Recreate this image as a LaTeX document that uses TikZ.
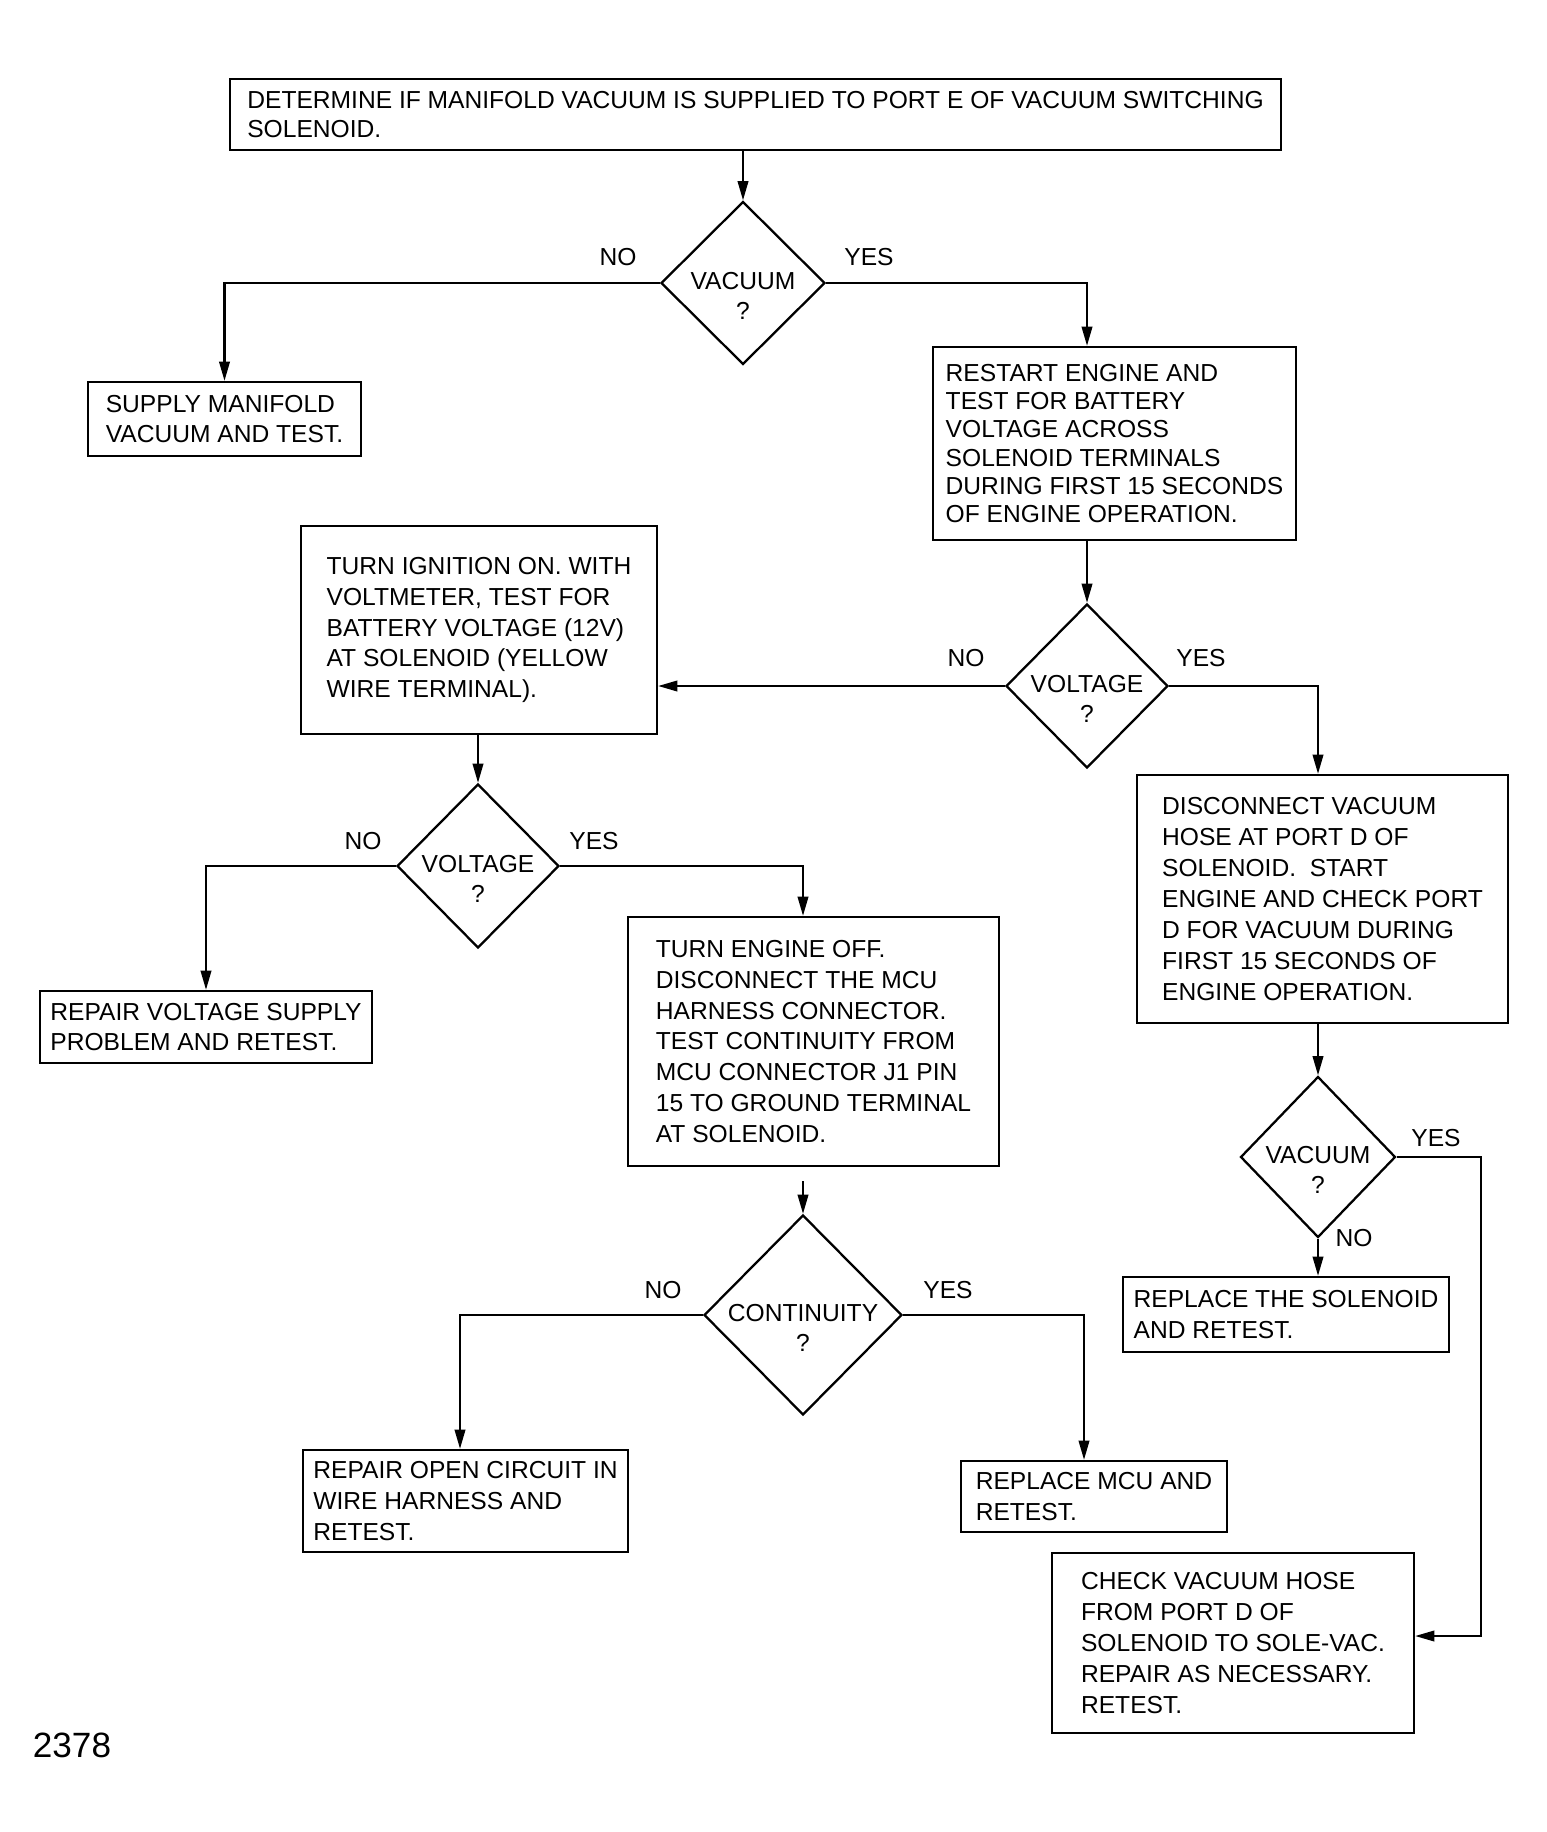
\documentclass[tikz,border=0pt]{standalone}
\usepackage{fontspec}
\setmainfont{Liberation Sans}
\usetikzlibrary{shapes.geometric,arrows.meta}

\begin{document}
\begin{tikzpicture}[x=0.02cm,y=-0.02cm,
  stepbox/.style={draw,line width=1.3pt,align=left,inner sep=0pt,font=\fontsize{14pt}{17.6pt}\selectfont},
  query/.style={draw,diamond,aspect=1,line width=1.3pt,inner sep=0pt},
  asktext/.style={align=center,yshift=-0.26cm,font=\fontsize{14pt}{17.5pt}\selectfont},
  answer/.style={font=\fontsize{14pt}{14pt}\selectfont},
  flow/.style={line width=1.3pt,-{Triangle[length=11pt,width=6pt]}}]
\useasboundingbox (0,0) rectangle (1546,1832);

\node[stepbox,minimum width=21.02cm,minimum height=1.42cm,font=\fontsize{14pt}{16.5pt}\selectfont] (determine) at (755.5,114.5) {DETERMINE IF MANIFOLD VACUUM IS SUPPLIED TO PORT E OF VACUUM SWITCHING\\SOLENOID.};
\node[query,minimum width=3.28cm,minimum height=3.26cm,label={[asktext]center:VACUUM\\?}] (vac1) at (743,283) {};
\node[stepbox,minimum width=5.46cm,minimum height=1.48cm] (supply) at (224.5,419) {SUPPLY MANIFOLD\\VACUUM AND TEST.};
\node[stepbox,minimum width=7.26cm,minimum height=3.86cm,font=\fontsize{14pt}{16pt}\selectfont] (restart) at (1114.5,443.5) {RESTART ENGINE AND\\TEST FOR BATTERY\\VOLTAGE ACROSS\\SOLENOID TERMINALS\\DURING FIRST 15 SECONDS\\OF ENGINE OPERATION.};

\node[query,minimum width=3.24cm,minimum height=3.28cm,label={[asktext]center:VOLTAGE\\?}] (volt1) at (1087,686) {};
\node[stepbox,minimum width=7.12cm,minimum height=4.16cm] (ignition) at (479,630) {TURN IGNITION ON. WITH\\VOLTMETER, TEST FOR\\BATTERY VOLTAGE (12V)\\AT SOLENOID (YELLOW\\WIRE TERMINAL).};
\node[stepbox,minimum width=7.42cm,minimum height=4.96cm] (disconnect) at (1322.5,899) {DISCONNECT VACUUM\\HOSE AT PORT D OF\\SOLENOID.\ \ START\\ENGINE AND CHECK PORT\\D FOR VACUUM DURING\\FIRST 15 SECONDS OF\\ENGINE OPERATION.};

\node[query,minimum width=3.24cm,minimum height=3.28cm,label={[asktext]center:VOLTAGE\\?}] (volt2) at (478,866) {};
\node[stepbox,minimum width=6.64cm,minimum height=1.44cm] (repvolt) at (206,1027) {REPAIR VOLTAGE SUPPLY\\PROBLEM AND RETEST.};
\node[stepbox,minimum width=7.42cm,minimum height=4.98cm] (engoff) at (813.5,1041.5) {TURN ENGINE OFF.\\DISCONNECT THE MCU\\HARNESS CONNECTOR.\\TEST CONTINUITY FROM\\MCU CONNECTOR J1 PIN\\15 TO GROUND TERMINAL\\AT SOLENOID.};

\node[query,minimum width=3.96cm,minimum height=4cm,label={[asktext]center:CONTINUITY\\?}] (cont) at (803,1315) {};
\node[stepbox,minimum width=6.5cm,minimum height=2.04cm] (repopen) at (465.5,1501) {REPAIR OPEN CIRCUIT IN\\WIRE HARNESS AND\\RETEST.};
\node[stepbox,minimum width=5.32cm,minimum height=1.42cm] (repmcu) at (1094,1496.5) {REPLACE MCU AND\\RETEST.};

\node[query,minimum width=3.1cm,minimum height=3.22cm,label={[asktext]center:VACUUM\\?}] (vac2) at (1318,1157) {};
\node[stepbox,minimum width=6.52cm,minimum height=1.5cm] (repsol) at (1286,1314.5) {REPLACE THE SOLENOID\\AND RETEST.};
\node[stepbox,minimum width=7.24cm,minimum height=3.6cm] (checkhose) at (1233,1643) {CHECK VACUUM HOSE\\FROM PORT D OF\\SOLENOID TO SOLE-VAC.\\REPAIR AS NECESSARY.\\RETEST.};

% answers
\node[answer] (no1) at (618,257) {NO};
\node[answer] (yes1) at (869,257) {YES};
\node[answer] (no2) at (966,658) {NO};
\node[answer] (yes2) at (1201,658) {YES};
\node[answer] (no3) at (363,841) {NO};
\node[answer] (yes3) at (594,841) {YES};
\node[answer] (no4) at (663,1290) {NO};
\node[answer] (yes4) at (948,1290) {YES};
\node[answer] (yes5) at (1436,1138) {YES};
\node[answer] (no5) at (1354,1238) {NO};

\node[font=\fontsize{20pt}{20pt}\selectfont] (figno) at (72,1745) {2378};

% connectors
\draw[flow] (determine.south -| vac1.north) -- (vac1.north);
\draw[flow] (vac1.west) -| (supply.north);
\draw[flow] (vac1.east) -| (restart.north -| volt1.north);
\draw[flow] (restart.south -| volt1.north) -- (volt1.north);
\draw[flow] (volt1.west) -- (volt1.west -| ignition.east);
\draw[flow] (volt1.east) -| (disconnect.north -| vac2.north);
\draw[flow] (ignition.south -| volt2.north) -- (volt2.north);
\draw[flow] (volt2.west) -| (repvolt.north);
\draw[flow] (volt2.east) -| (engoff.north -| cont.north);
\draw[flow,shorten <=0.28cm] (engoff.south -| cont.north) -- (cont.north);
\draw[flow] (cont.west) -| ([xshift=-0.11cm]repopen.north);
\draw[flow] (cont.east) -| ([xshift=-0.2cm]repmcu.north);
\draw[flow] (disconnect.south -| vac2.north) -- (vac2.north);
\draw[flow] (vac2.south) -- (vac2.south |- repsol.north);
\coordinate (hosebend) at (1481,1636);
\draw[flow] (vac2.east) -| (hosebend) -- (hosebend -| checkhose.east);
\end{tikzpicture}
\end{document}
